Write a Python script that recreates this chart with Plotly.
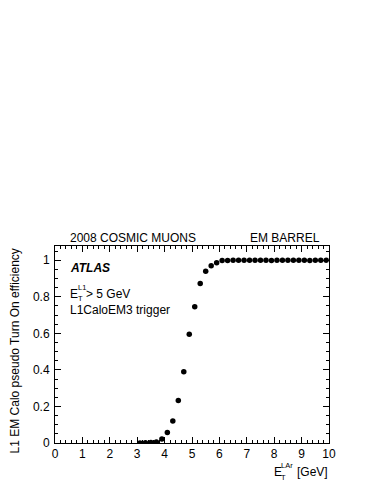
# ATLAS L1 EM Calo pseudo turn-on efficiency (2008 cosmic muons, EM barrel)
import plotly.graph_objects as go

# Bin centres in E_T^LAr [GeV] and measured efficiency
et_lar = [3.1, 3.3, 3.5, 3.7, 3.9, 4.1, 4.3, 4.5, 4.7, 4.9,
          5.1, 5.3, 5.5, 5.7, 5.9, 6.1, 6.3, 6.5, 6.7, 6.9,
          7.1, 7.3, 7.5, 7.7, 7.9, 8.1, 8.3, 8.5, 8.7, 8.9,
          9.1, 9.3, 9.5, 9.7, 9.9]
efficiency = [0.0, 0.002, 0.003, 0.006, 0.022, 0.057, 0.12, 0.232, 0.39, 0.595,
              0.745, 0.873, 0.94, 0.97, 0.986, 0.998, 0.999, 1.0, 1.0, 1.0,
              1.0, 1.0, 1.0, 1.0, 0.999, 1.0, 1.0, 1.0, 1.0, 1.0,
              1.0, 0.999, 1.0, 1.0, 1.0]

x_ticks = [0, 1, 2, 3, 4, 5, 6, 7, 8, 9, 10]
y_ticks = [0, 0.2, 0.4, 0.6, 0.8, 1]
y_tick_text = ['0', '0.2', '0.4', '0.6', '0.8', '1']

FONT = 'Liberation Sans, Arial, Helvetica, sans-serif'

#%%
fig = go.Figure()
fig.add_trace(go.Scatter(
    x=et_lar,
    y=efficiency,
    mode='markers',
    marker=dict(color='black', size=5.5, symbol='circle'),
    showlegend=False
))

axis_common = dict(
    showgrid=False, zeroline=False,
    showline=True, linecolor='black', linewidth=1,
    mirror='allticks', ticks='inside', ticklen=6, tickwidth=1, tickcolor='black',
    tickfont=dict(family=FONT, size=12, color='black'),
)

fig.update_xaxes(
    range=[0, 10], tickvals=x_ticks, ticktext=[str(t) for t in x_ticks],
    minor=dict(ticks='inside', dtick=0.2, ticklen=3, tickcolor='black', showgrid=False),
    **axis_common
)
fig.update_yaxes(
    range=[0, 1.078], tickvals=y_ticks, ticktext=y_tick_text,
    minor=dict(ticks='inside', dtick=0.05, ticklen=3, tickcolor='black', showgrid=False),
    ticklabelstandoff=2,
    **axis_common
)

# text labels
def txt(text, x, y, size=12, xanchor='left', yanchor='middle', angle=0):
    fig.add_annotation(text=text, x=x, y=y, xref='paper', yref='paper',
                       xanchor=xanchor, yanchor=yanchor, showarrow=False,
                       textangle=angle, borderpad=0,
                       font=dict(family=FONT, size=size, color='black'))

txt('2008 COSMIC MUONS', 0.05, 1.0, yanchor='bottom')
txt('EM BARREL', 0.97, 1.0, xanchor='right', yanchor='bottom')
txt('<b><i>ATLAS</i></b>', 0.05, 0.886)
# E_T^L1 > 5 GeV
txt('E', 0.05, 0.758)
txt('L1', 0.081, 0.789, size=7.5)
txt('T', 0.081, 0.733, size=7.5)
txt('> 5 GeV', 0.11, 0.755)
txt('L1CaloEM3 trigger', 0.05, 0.675)
# x axis title E_T^LAr [GeV]
txt('E', 0.797, -0.145)
txt('LAr', 0.822, -0.114, size=7.5)
txt('T', 0.822, -0.174, size=7.5)
txt('[GeV]', 1.0, -0.147, xanchor='right')
# y axis title
txt('L1 EM Calo pseudo Turn On efficiency', -0.146, 0.47, xanchor='center', angle=-90)

# page body has an 8px margin, so the figure is shrunk and shifted by that amount
fig.update_layout(
    width=366, height=476,
    margin=dict(l=47, r=45, t=238, b=41),
    paper_bgcolor='white', plot_bgcolor='white',
    font=dict(family=FONT, color='black')
)

fig.write_html('out.html')
